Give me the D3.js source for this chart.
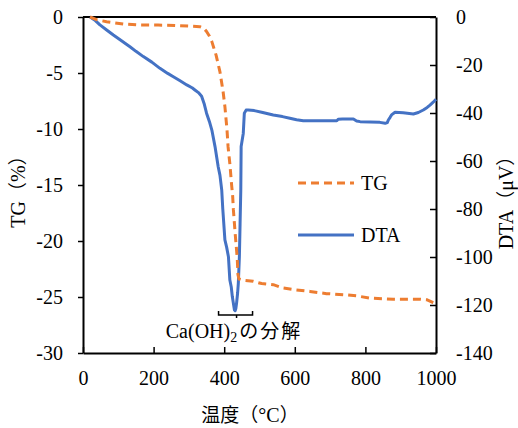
<!DOCTYPE html>
<html><head><meta charset="utf-8">
<script src="https://cdn.jsdelivr.net/npm/d3@7"></script>
<style>
body{margin:0;background:#fff;}
svg{display:block;}
</style></head>
<body>
<div id="chart"></div>
<script>
// TG data (temperature °C, TG %)
const tgTemp = [20,40,67,114,157,213,260,331,342,350,358,365,377,388,393,397,402,408,411,416,421,424,426,431,435,437,439,442,450,482,506,539,567,600,643,690,740,775,813,879,955,975,992,1000];
const tgVal  = [0,-0.25,-0.42,-0.63,-0.71,-0.72,-0.75,-0.86,-1.0,-1.3,-1.7,-2.2,-3.4,-4.9,-5.9,-6.7,-8.0,-10.1,-11.6,-13.1,-15.0,-16.0,-17.2,-19.3,-20.8,-21.6,-23.0,-23.4,-23.5,-23.6,-23.8,-23.9,-24.2,-24.35,-24.5,-24.7,-24.8,-24.9,-25.1,-25.2,-25.2,-25.25,-25.5,-25.6];
// DTA data (temperature °C, DTA μV)
const dtaTemp = [20,35,48,67,86,110,133,150,171,195,218,240,256,275,294,310,317,327,336,343,350,358,365,374,383,388,393,396,402,407,412,416,420,423,429,431,433,435,438,440,443,445,447,448,454,457,462,468,485,506,539,565,586,605,624,680,719,723,735,766,775,785,841,856,862,865,870,874,884,907,936,950,964,975,983,992,1000];
const dtaVal  = [0,-1.5,-3.3,-5.4,-7.5,-10.0,-12.4,-14.3,-16.5,-18.8,-21.4,-23.5,-24.9,-26.6,-28.3,-29.6,-30.4,-31.5,-33.0,-36.0,-40.1,-43.5,-47.1,-54,-62.4,-66,-72.1,-80,-92.9,-96,-99.9,-109.6,-112.5,-116.5,-122.1,-122.4,-121.5,-119.3,-115,-111,-99.9,-86,-72.1,-54,-48.5,-40.1,-38.8,-38.75,-39.0,-39.7,-40.8,-41.5,-42.2,-42.8,-43.2,-43.2,-43.2,-42.6,-42.5,-42.5,-43.3,-43.6,-43.9,-44.3,-44.0,-42.9,-41.8,-40.8,-39.7,-39.9,-40.4,-39.8,-38.75,-37.7,-36.7,-35.5,-34.3];
const xTicks = [0,200,400,600,800,1000];
const tgTicks = [0,-5,-10,-15,-20,-25,-30];
const dtaTicks = [0,-20,-40,-60,-80,-100,-120,-140];
const seriesNames = ["TG","DTA"];
const annotation = {temp: 435, label: "Ca(OH)", sub: "2", jp: "の分解"};

const W = 518, H = 428;
const M = {l:83, r:436, t:17, b:353};
const serif = "'Liberation Serif','Times New Roman',serif";
const cjk = "'Noto Sans CJK JP','Noto Sans CJK SC',sans-serif";
const orange = "#ED7D31", blue = "#4472C4";

const svg = d3.select("#chart").append("svg").attr("width",W).attr("height",H);

const x = d3.scaleLinear().domain([0,1000]).range([M.l,M.r]);
const yL = d3.scaleLinear().domain([-30,0]).range([M.b,M.t]);
const yR = d3.scaleLinear().domain([-140,0]).range([M.b,M.t]);

// axes
const fmt = d => String(d);
const gx = svg.append("g").attr("transform",`translate(0,${M.b})`)
  .call(d3.axisBottom(x).tickValues(xTicks).tickFormat(fmt).tickSizeInner(-6).tickSizeOuter(0).tickPadding(18));
const gl = svg.append("g").attr("transform",`translate(${M.l},0)`)
  .call(d3.axisLeft(yL).tickValues(tgTicks).tickFormat(fmt).tickSizeInner(5).tickSizeOuter(0).tickPadding(15));
const gr = svg.append("g").attr("transform",`translate(${M.r},0)`)
  .call(d3.axisRight(yR).tickValues(dtaTicks).tickFormat(fmt).tickSizeInner(-6).tickSizeOuter(0).tickPadding(20));
[gx,gl,gr].forEach(g=>{
  g.selectAll("text").attr("font-family",serif).attr("font-size",20).attr("fill","#000");
  g.selectAll("line").attr("stroke","#000").attr("stroke-width",1.5);
  g.select(".domain").attr("stroke","#000").attr("stroke-width",2);
});
// top border
svg.append("line").attr("x1",M.l).attr("x2",M.r).attr("y1",M.t).attr("y2",M.t)
  .attr("stroke","#000").attr("stroke-width",2);

// lines
const tgData = tgTemp.map((t,i)=>[t,tgVal[i]]);
const dtaData = dtaTemp.map((t,i)=>[t,dtaVal[i]]);

svg.append("path").datum(dtaData)
  .attr("d",d3.line().x(d=>x(d[0])).y(d=>yR(d[1])))
  .attr("fill","none").attr("stroke",blue).attr("stroke-width",3).attr("stroke-linejoin","round");
svg.append("path").datum(tgData)
  .attr("d",d3.line().x(d=>x(d[0])).y(d=>yL(d[1])))
  .attr("fill","none").attr("stroke",orange).attr("stroke-width",3)
  .attr("stroke-dasharray","8,5").attr("stroke-linejoin","round");

// legend
const leg = [{name:seriesNames[0], c:orange, dash:"8,5", y:183},{name:seriesNames[1], c:blue, dash:null, y:235}];
leg.forEach(l=>{
  svg.append("line").attr("x1",298).attr("x2",354).attr("y1",l.y).attr("y2",l.y)
    .attr("stroke",l.c).attr("stroke-width",3).attr("stroke-dasharray",l.dash);
  svg.append("text").attr("x",361).attr("y",l.y+7).attr("font-family",serif).attr("font-size",20).text(l.name);
});

// annotation bracket
const ax = x(annotation.temp);
const by = 315;
svg.append("path")
  .attr("d",`M${ax-18},${by-4}V${by}H${ax+16}V${by-4}M${ax},${by}V${by+3}`)
  .attr("fill","none").attr("stroke","#000").attr("stroke-width",1.5);
const at = svg.append("text").attr("x",234).attr("y",338).attr("text-anchor","middle").attr("font-size",20);
at.append("tspan").attr("font-family",serif).text(annotation.label);
at.append("tspan").attr("font-family",serif).attr("font-size",14).attr("dy",4).text(annotation.sub);
at.append("tspan").attr("font-family",cjk).attr("font-size",19).attr("dy",-4).attr("letter-spacing",2).attr("dx",2).text(annotation.jp);

// axis titles
const xt = svg.append("text").attr("x",250).attr("y",422).attr("text-anchor","middle").attr("font-size",19);
xt.append("tspan").attr("font-family",cjk).text("温度（");
xt.append("tspan").attr("font-family",serif).attr("font-size",20).text("°C");
xt.append("tspan").attr("font-family",cjk).text("）");

const lt = svg.append("text").attr("transform","translate(25,187) rotate(-90)").attr("text-anchor","middle").attr("font-size",19);
lt.append("tspan").attr("font-family",serif).attr("font-size",20).text("TG");
lt.append("tspan").attr("font-family",cjk).text("（");
lt.append("tspan").attr("font-family",serif).attr("font-size",20).text("%");
lt.append("tspan").attr("font-family",cjk).text("）");

const rt = svg.append("text").attr("transform","translate(513,198) rotate(-90)").attr("text-anchor","middle").attr("font-size",19);
rt.append("tspan").attr("font-family",serif).attr("font-size",20).text("DTA");
rt.append("tspan").attr("font-family",cjk).text("（");
rt.append("tspan").attr("font-family",serif).attr("font-size",20).text("μV");
rt.append("tspan").attr("font-family",cjk).text("）");
</script>
</body></html>
